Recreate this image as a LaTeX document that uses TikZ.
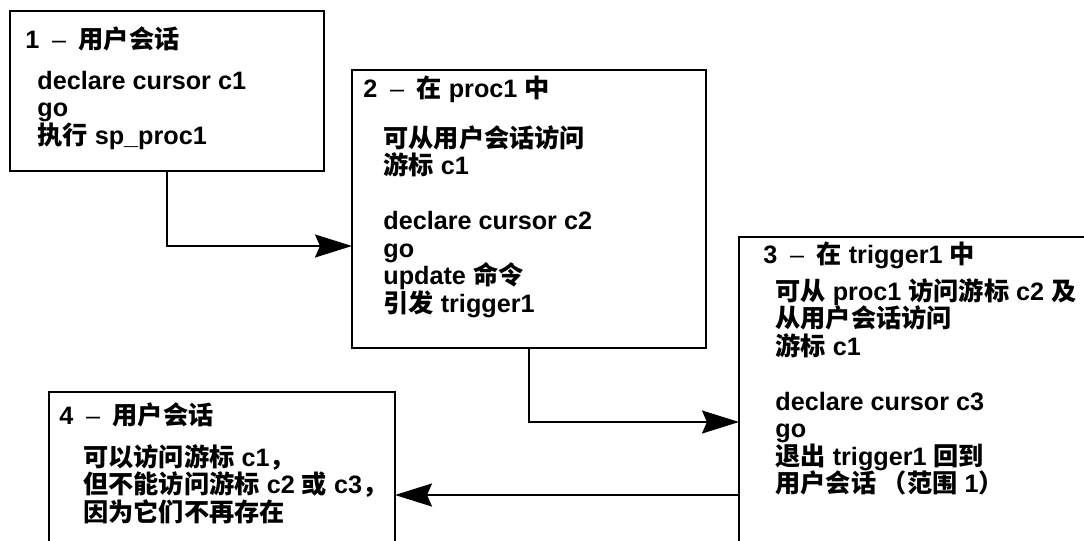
\documentclass[tikz,border=0pt]{standalone}
\usepackage{fontspec}
\setmainfont{Liberation Sans}
\newfontfamily\cjk{Noto Sans CJK SC}
\newcommand{\zh}[1]{{\cjk\bfseries #1}}
\newcommand{\sep}{\enskip{\mdseries –}\enskip}
\usetikzlibrary{arrows.meta}
\begin{document}
\begin{tikzpicture}[x=0.5pt,y=-0.5pt,
  box/.style={draw,line width=1pt,inner sep=0pt,outer sep=0pt,anchor=north west},
  head/.style={anchor=base west,inner sep=0pt,font=\fontsize{12.6pt}{13.75pt}\selectfont\bfseries},
  body/.style={anchor=north west,inner sep=0pt,align=left,font=\fontsize{12.6pt}{13.75pt}\selectfont\bfseries},
  flow/.style={line width=1pt,-{Stealth[length=18.5pt,width=11.5pt,inset=2.5pt]}}]
\useasboundingbox (0,0) rectangle (1084,541);
\clip (0,0) rectangle (1084,541);
\fill[white] (0,0) rectangle (1084,541);
\node[box,minimum width=157pt,minimum height=80pt] (b1) at (10,11) {};
\node[box,minimum width=177pt,minimum height=139pt] (b2) at (352,70) {};
\node[box,minimum width=180.5pt,minimum height=161.5pt] (b3) at (739,237) {};
\node[box,minimum width=173pt,minimum height=84pt] (b4) at (49,392) {};
\node[head] (h1) at (25,48) {1\sep\zh{用户会话}};
\node[body] (t1) at (37,67) {\rule{0pt}{11pt}declare cursor c1\\ go\\ \zh{执行} sp\_proc1};
\node[head] (h2) at (363,97) {2\sep\zh{在} proc1 \zh{中}};
\node[body] (t2) at (383,125) {\rule{0pt}{11pt}\zh{可从用户会话访问}\\ \zh{游标} c1\\[13.75pt] declare cursor c2\\ go\\ update \zh{命令}\\ \zh{引发} trigger1};
\node[head] (h3) at (763,263) {3\sep\zh{在} trigger1 \zh{中}};
\node[body] (t3) at (775,278) {\rule{0pt}{11pt}\zh{可从} proc1 \zh{访问游标} c2 \zh{及}\\ \zh{从用户会话访问}\\ \zh{游标} c1\\[13.75pt] declare cursor c3\\ go\\ \zh{退出} trigger1 \zh{回到}\\ \zh{用户会话 （范围} 1\zh{）}};
\node[head] (h4) at (59,424) {4\sep\zh{用户会话}};
\node[body] (t4) at (83,444) {\rule{0pt}{11pt}\zh{可以访问游标} c1\zh{，}\\ \zh{但不能访问游标} c2 \zh{或} c3\zh{，}\\ \zh{因为它们不再存在}};
\draw[flow] (b1.south) |- ([yshift=-88pt]b2.north west);
\draw[flow] (b2.south) |- ([yshift=-92.5pt]b3.north west);
\draw[flow] ([yshift=-129pt]b3.north west) -- ([yshift=-51.5pt]b4.north east);
\end{tikzpicture}
\end{document}
